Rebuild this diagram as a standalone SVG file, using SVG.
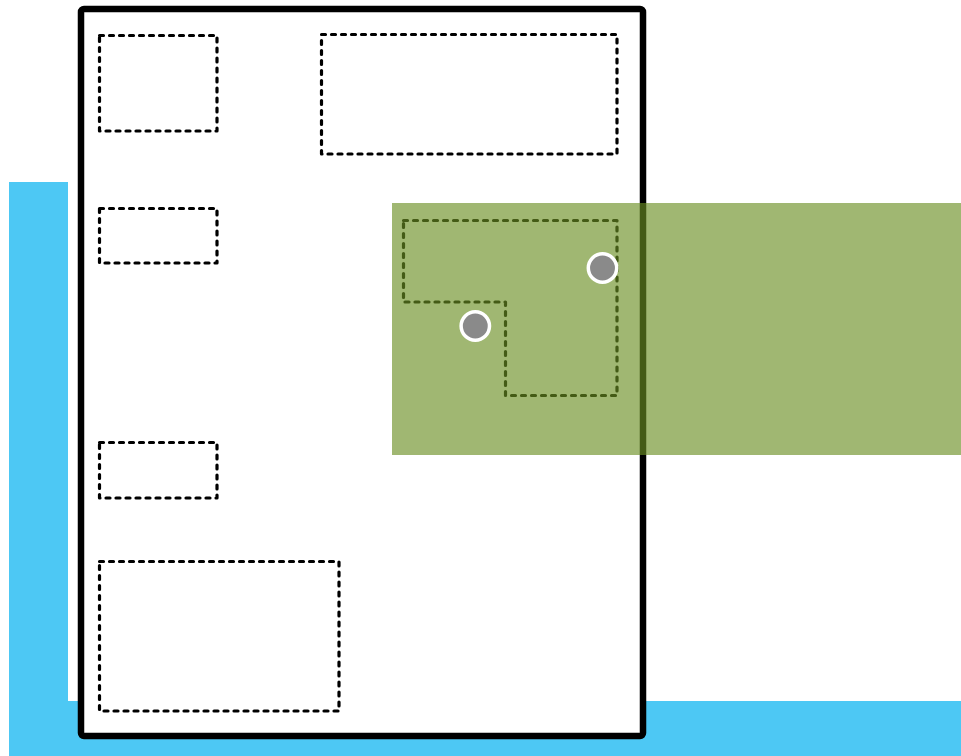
<svg xmlns="http://www.w3.org/2000/svg" width="961" height="756" viewBox="0 0 961 756">
<style>
.blue{fill:#4dc8f4}
.frame{fill:#fff;stroke:#000;stroke-width:6.5}
.zone{fill:none;stroke:#000;stroke-width:3.2;stroke-dasharray:4 6;stroke-linecap:round;stroke-linejoin:round}
.overlay{fill:#6b8e23;fill-opacity:0.64}
.pin{fill:#8a8a8a;stroke:#fff;stroke-width:3.5}
</style>
<rect width="961" height="756" fill="#fff"/>
<g id="water">
<rect class="blue" x="9" y="182" width="59" height="574"/>
<rect class="blue" x="9" y="701" width="952" height="55"/>
</g>
<g id="building">
<rect class="frame" x="81" y="9" width="562" height="727" rx="3"/>
</g>
<g id="room1"><rect class="zone" x="99.5" y="35.5" width="117.5" height="95.5"/></g>
<g id="room2"><rect class="zone" x="321.5" y="34.5" width="295.5" height="119.5"/></g>
<g id="room3"><rect class="zone" x="99.5" y="208.5" width="117.5" height="54.5"/></g>
<g id="room4"><rect class="zone" x="99.5" y="442.5" width="117.5" height="55.5"/></g>
<g id="room5"><rect class="zone" x="99.5" y="561.5" width="239.5" height="149.5"/></g>
<g id="room6"><path class="zone" d="M403.5 220.5 H617 V395.5 H505.5 V302 H403.5 Z"/></g>
<g id="highlight"><rect class="overlay" x="392" y="203" width="569" height="252"/></g>
<g id="pins">
<circle class="pin" cx="602.5" cy="268" r="14.2"/>
<circle class="pin" cx="475.3" cy="326" r="14.2"/>
</g>
</svg>
